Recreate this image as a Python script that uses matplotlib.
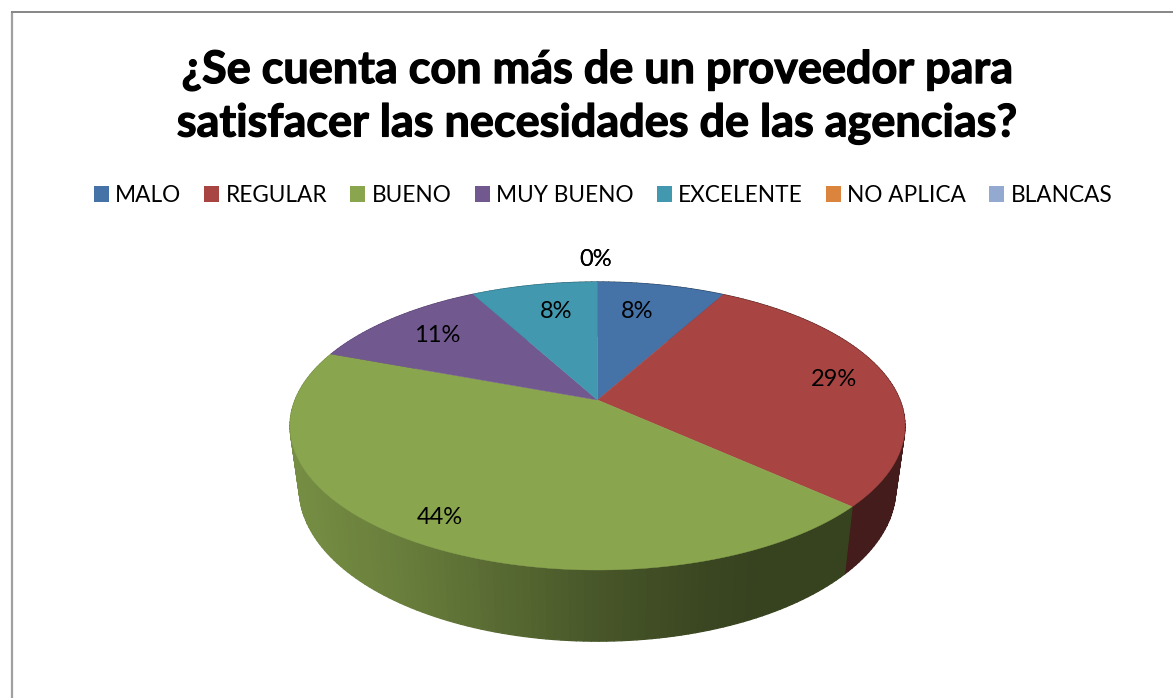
import numpy as np
import matplotlib
matplotlib.use('Agg')
import matplotlib.pyplot as plt
import matplotlib.patheffects as pe
from matplotlib.collections import PolyCollection
from matplotlib.patches import Patch

title = "¿Se cuenta con más de un proveedor para\nsatisfacer las necesidades de las agencias?"
categories = ['MALO', 'REGULAR', 'BUENO', 'MUY BUENO', 'EXCELENTE', 'NO APLICA', 'BLANCAS']
values = [8.0, 28.75, 43.95, 11.4, 7.9, 0, 0]
colors = ['#4572A7', '#A84543', '#89A54E', '#71588F', '#4198AF', '#DB843D', '#93A9CF']

# label centres, in pixels of the picture
label_x = [637, 834, 440, 437, 556, 596, 596]
label_y = [312, 380, 518, 336, 312, 260, 260]

# pie geometry (pixels), the top face is a circle seen in perspective
cx, cy = 597.5, 400
A, B, K = 302.4, 139.3, 0.1806
wall_dx, wall_dy = 0.97, 1.06
wall_drop = 61

# wall brightness across the picture
shade_x = [290, 400, 500, 600, 700, 760, 910]
shade_k = [0.86, 0.76, 0.64, 0.52, 0.43, 0.40, 0.40]


def top_face(theta):
    # theta is clockwise from 12 o'clock
    u, v = np.sin(theta), np.cos(theta)
    d = 1 + K * v
    return A * u / d, B * v / d


def darker(col, k):
    return tuple(c * k for c in matplotlib.colors.to_rgb(col))


fig = plt.figure(figsize=(11.73, 6.98), dpi=100)
ax = fig.add_axes([0, 0, 1, 1])
ax.set_xlim(0, 1173)
ax.set_ylim(698, 0)
ax.axis('off')

plt.rcParams['font.family'] = ['Lato', 'DejaVu Sans']

# chart frame
ax.plot([12, 12], [698, 12], color='#a0a0a0', lw=1.6, solid_capstyle='butt')
ax.plot([11, 1173], [12, 12], color='#868686', lw=1.4, solid_capstyle='butt')

edges = np.cumsum([0] + values) / sum(values) * 2 * np.pi

# side wall first, the top faces are painted over it
for i, col in enumerate(colors):
    if values[i] == 0:
        continue
    th = np.linspace(edges[i], edges[i + 1], max(int(values[i] * 3), 2))
    x, y = top_face(th)
    polys, cols = [], []
    for j in range(len(th) - 1):
        xm = cx + (x[j] + x[j + 1]) / 2
        polys.append([(cx + x[j], cy - y[j]), (cx + x[j + 1], cy - y[j + 1]),
                      (cx + x[j + 1] * wall_dx, cy + wall_drop - y[j + 1] * wall_dy),
                      (cx + x[j] * wall_dx, cy + wall_drop - y[j] * wall_dy)])
        cols.append(darker(col, np.interp(xm, shade_x, shade_k)))
    ax.add_collection(PolyCollection(polys, facecolors=cols, edgecolors=cols, linewidths=0.9, zorder=2))

for i, col in enumerate(colors):
    if values[i] == 0:
        continue
    th = np.linspace(edges[i], edges[i + 1], 120)
    x, y = top_face(th)
    ax.fill(np.r_[cx, cx + x], np.r_[cy, cy - y], color=col, lw=0.3, zorder=3)

for v, lx, ly in zip(values, label_x, label_y):
    ax.text(lx, ly, f'{v:.0f}%', ha='center', va='center', fontsize=17, color='black', zorder=4)

# Lato bold is a bit lighter than the original title face
ax.text(597, 97, title, ha='center', va='center', fontsize=32.4, fontweight='bold',
        color='black', linespacing=1.32, multialignment='center',
        path_effects=[pe.withStroke(linewidth=0.9, foreground='black')])

handles = [Patch(facecolor=c, edgecolor='none', label=n) for c, n in zip(colors, categories)]
ax.legend(handles=handles, loc='center', bbox_to_anchor=(603, 195.5), bbox_transform=ax.transData,
          ncol=7, frameon=False, fontsize=16.3, handlelength=0.66, handleheight=0.66,
          handletextpad=0.28, columnspacing=1.02, borderpad=0, borderaxespad=0)

fig.savefig('out.png', dpi=100)
